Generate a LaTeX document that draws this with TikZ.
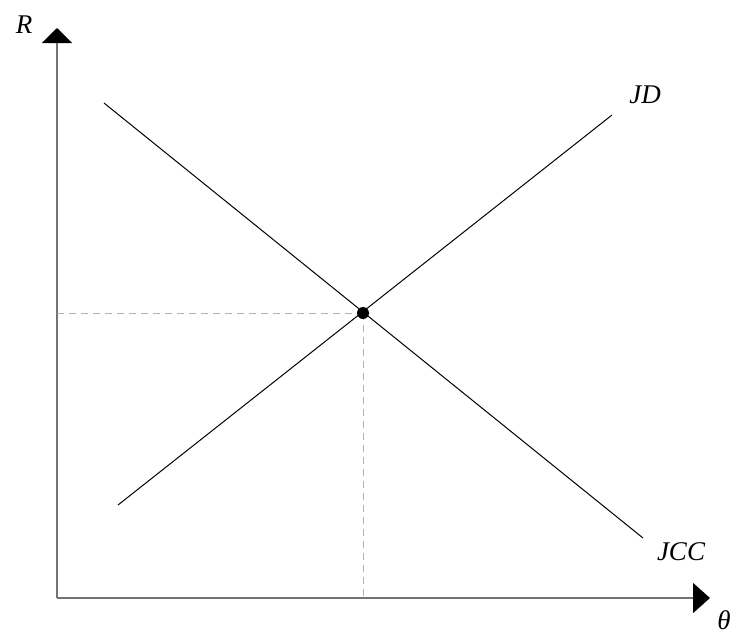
\documentclass[tikz,border=0pt]{standalone}
\usepackage{fontspec}
\setmainfont{Liberation Serif}
\usetikzlibrary{arrows.meta}
\begin{document}
\begin{tikzpicture}[x=1pt,y=-1pt,
  axis/.style={draw=black!55,line width=1.6pt},
  curve/.style={draw=black,line width=1pt},
  guide/.style={draw=black!30,line width=0.9pt,dash pattern=on 7pt off 5pt},
  lbl/.style={font=\fontsize{27}{27}\selectfont\itshape,inner sep=0pt}]
\useasboundingbox (0,0) rectangle (732,635);
\coordinate (O) at (57,598);
\coordinate (Ytop) at (57,28);
\coordinate (Xend) at (710,598);
\draw[axis,-{Triangle[length=15pt,width=30pt,fill=black,color=black]}] (O) -- (Ytop);
\draw[axis,-{Triangle[length=17pt,width=30pt,fill=black,color=black]}] (O) -- (Xend);
\coordinate (a1) at (104,103);
\coordinate (a2) at (643,538);
\coordinate (b1) at (118,505);
\coordinate (b2) at (612,115);
\coordinate (E) at (363,313);
\coordinate (Ey) at (57,313);
\coordinate (Ex) at (363,598);
\draw[guide] (Ey) -- (E);
\draw[guide] (E) -- (Ex);
\draw[curve] (a1) -- (a2);
\draw[curve] (b1) -- (b2);
\fill (E) circle (6);
\node[lbl] (R) at (24,25) {R};
\node[lbl] (JD) at (645,95) {JD};
\node[lbl] (JCC) at (681,552) {JCC};
\node[lbl] (th) at (724,620) {θ};
\end{tikzpicture}
\end{document}
